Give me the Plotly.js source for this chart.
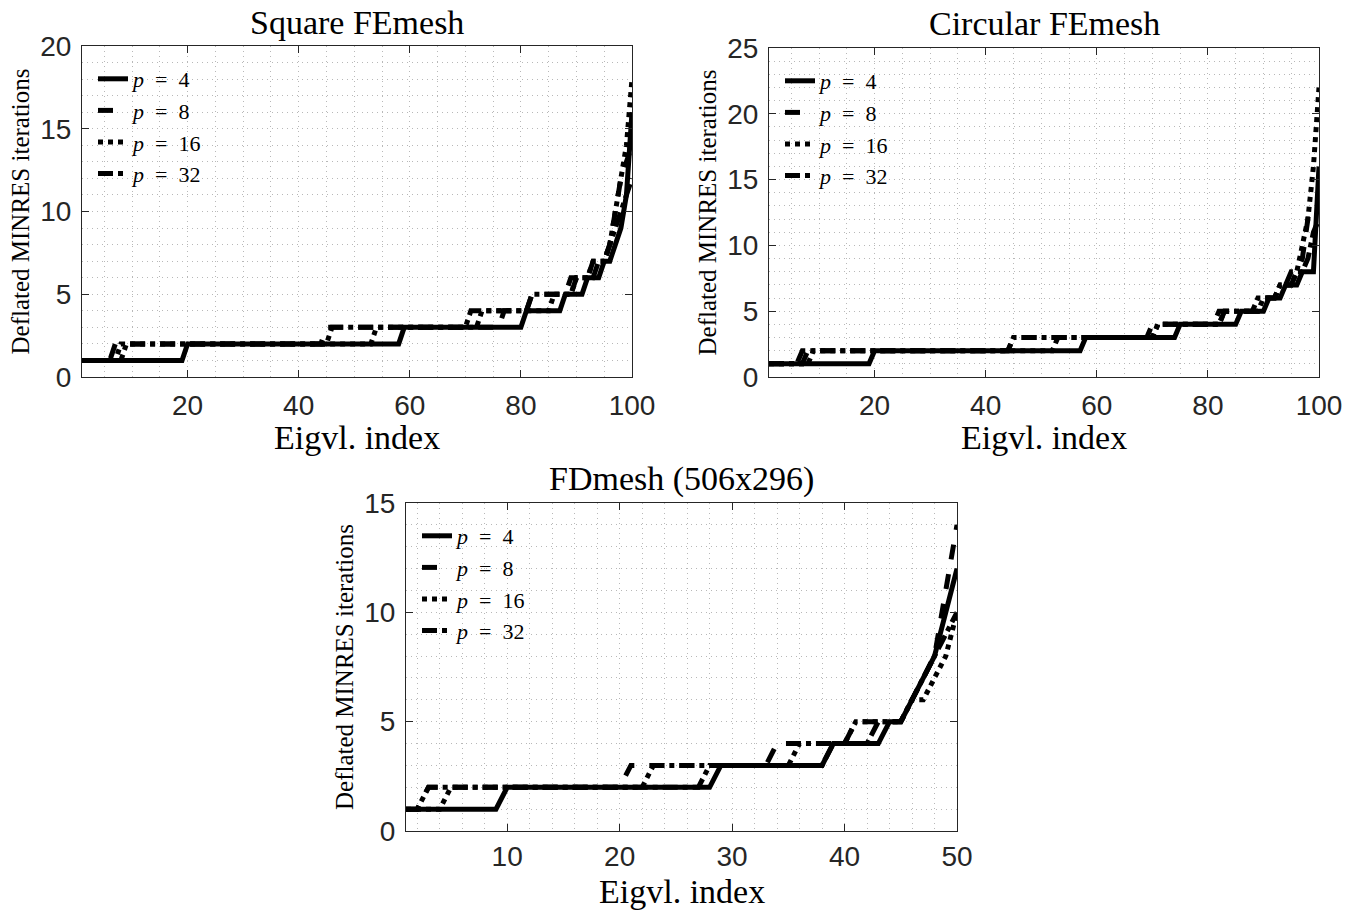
<!DOCTYPE html>
<html>
<head>
<meta charset="utf-8">
<script src="https://cdn.plot.ly/plotly-3.0.1.min.js"></script>
<style>html,body{margin:0;padding:0;background:#fff;}#chart{width:1358px;height:911px;}</style>
</head>
<body>
<div id="chart"></div>
<script>
// ---------- DATA ----------
const seriesNames = ['<i>p</i>\u2002=\u20024', '<i>p</i>\u2002=\u20028', '<i>p</i>\u2002=\u200216', '<i>p</i>\u2002=\u200232'];
const panelTitles = ['Square FEmesh', 'Circular FEmesh', 'FDmesh (506x296)'];
const xLabel = 'Eigvl. index';
const yLabel = 'Deflated MINRES iterations';

// Square FEmesh (100 eigenvalues)
const square_p4 = [
  1,1,1,1,1,1,1,1,1,1, 1,1,1,1,1,1,1,1,1,2, 2,2,2,2,2,2,2,2,2,2, 2,2,2,2,2,2,2,2,2,2,
  2,2,2,2,2,2,2,2,2,2, 2,2,2,2,2,2,2,2,3,3, 3,3,3,3,3,3,3,3,3,3, 3,3,3,3,3,3,3,3,3,3,
  4,4,4,4,4,4,4,5,5,5, 5,6,6,6,7,7,8,9,11,16];
const square_p8 = [
  1,1,1,1,1,1,2,2,2,2, 2,2,2,2,2,2,2,2,2,2, 2,2,2,2,2,2,2,2,2,2, 2,2,2,2,2,2,2,2,2,2,
  2,2,2,2,3,3,3,3,3,3, 3,3,3,3,3,3,3,3,3,3, 3,3,3,3,3,3,3,3,3,3, 3,3,3,3,3,3,4,4,4,4,
  4,5,5,5,5,5,5,5,6,6, 6,6,7,7,7,8,10,12,13,14];
const square_p16 = [
  1,1,1,1,1,1,1,2,2,2, 2,2,2,2,2,2,2,2,2,2, 2,2,2,2,2,2,2,2,2,2, 2,2,2,2,2,2,2,2,2,2,
  2,2,2,2,2,2,2,2,2,2, 2,2,2,3,3,3,3,3,3,3, 3,3,3,3,3,3,3,3,3,3, 3,3,4,4,4,4,4,4,4,4,
  4,4,4,4,4,5,5,5,5,6, 6,6,7,7,7,8,10,12,14,18];
const square_p32 = [
  1,1,1,1,1,1,1,1,2,2, 2,2,2,2,2,2,2,2,2,2, 2,2,2,2,2,2,2,2,2,2, 2,2,2,2,2,2,2,2,2,2,
  2,2,2,2,2,3,3,3,3,3, 3,3,3,3,3,3,3,3,3,3, 3,3,3,3,3,3,3,3,3,3, 4,4,4,4,4,4,4,4,4,4,
  4,5,5,5,5,5,5,5,5,6, 6,6,6,7,7,8,9,10,11,12];

// Circular FEmesh (100 eigenvalues)
const circ_p4 = [
  1,1,1,1,1,1,1,1,1,1, 1,1,1,1,1,1,1,1,1,2, 2,2,2,2,2,2,2,2,2,2, 2,2,2,2,2,2,2,2,2,2,
  2,2,2,2,2,2,2,2,2,2, 2,2,2,2,2,2,2,3,3,3, 3,3,3,3,3,3,3,3,3,3, 3,3,3,3,4,4,4,4,4,4,
  4,4,4,4,4,5,5,5,5,5, 6,6,6,7,7,7,8,8,8,16];
const circ_p8 = [
  1,1,1,1,1,1,2,2,2,2, 2,2,2,2,2,2,2,2,2,2, 2,2,2,2,2,2,2,2,2,2, 2,2,2,2,2,2,2,2,2,2,
  2,2,2,2,3,3,3,3,3,3, 3,3,3,3,3,3,3,3,3,3, 3,3,3,3,3,3,3,3,3,4, 4,4,4,4,4,4,4,4,4,4,
  4,5,5,5,5,5,5,5,5,6, 6,6,7,7,8,8,9,12,12,12];
const circ_p16 = [
  1,1,1,1,1,1,1,1,2,2, 2,2,2,2,2,2,2,2,2,2, 2,2,2,2,2,2,2,2,2,2, 2,2,2,2,2,2,2,2,2,2,
  2,2,2,2,2,2,2,2,2,2, 2,2,3,3,3,3,3,3,3,3, 3,3,3,3,3,3,3,3,3,3, 4,4,4,4,4,4,4,4,4,4,
  4,4,5,5,5,5,5,5,5,6, 6,6,7,7,7,8,10,12,16,22];
const circ_p32 = [
  1,1,1,1,1,1,1,2,2,2, 2,2,2,2,2,2,2,2,2,2, 2,2,2,2,2,2,2,2,2,2, 2,2,2,2,2,2,2,2,2,2,
  2,2,2,2,3,3,3,3,3,3, 3,3,3,3,3,3,3,3,3,3, 3,3,3,3,3,3,3,3,3,3, 4,4,4,4,4,4,4,4,4,4,
  4,4,5,5,5,5,5,5,6,6, 6,6,7,7,7,8,8,9,11,12];

// FDmesh 506x296 (50 eigenvalues)
const fd_p4 = [
  1,1,1,1,1,1,1,1,1,2, 2,2,2,2,2,2,2,2,2,2, 2,2,2,2,2,2,2,2,3,3,
  3,3,3,3,3,3,3,3,4,4, 4,4,4,5,5,6,7,8,10,12];
const fd_p8 = [
  1,1,2,2,2,2,2,2,2,2, 2,2,2,2,2,2,2,2,2,2, 3,3,3,3,3,3,3,3,3,3,
  3,3,3,4,4,4,4,4,4,4, 5,5,5,5,5,6,7,8,11,14];
const fd_p16 = [
  1,1,1,1,2,2,2,2,2,2, 2,2,2,2,2,2,2,2,2,2, 2,2,3,3,3,3,3,3,3,3,
  3,3,3,3,3,4,4,4,4,4, 5,5,5,5,5,6,6,7,8,10];
const fd_p32 = [
  1,1,2,2,2,2,2,2,2,2, 2,2,2,2,2,2,2,2,2,2, 2,2,2,2,2,2,2,3,3,3,
  3,3,3,3,3,3,3,3,4,4, 4,4,5,5,5,6,7,8,9,10];

const xTicks100 = [20, 40, 60, 80, 100];
const xTicks50 = [10, 20, 30, 40, 50];

// ---------- STYLE ----------
const W = 1358, H = 911;
const dashes = ['solid', 'dash', 'dot', 'dashdot'];
const axCol = '#262626';
const gridCol = '#b8b8b8';
const gridDash = '1px,4px';
const serif = 'Liberation Serif, Times New Roman, serif';

function px2x(p) { return p / W; }
function px2y(p) { return 1 - p / H; }

const panels = [
  {data: [square_p4, square_p8, square_p16, square_p32], box: [82, 632, 46, 377], xr: [1, 100], yr: [0, 20], xt: xTicks100, xminor: 5, yt: [0,5,10,15,20], legendKey: 'legend', xlab: 437, xlabAnchor: 'middle', xso: 3},
  {data: [circ_p4, circ_p8, circ_p16, circ_p32], box: [769, 1319, 48, 377], xr: [1, 100], yr: [0, 25], xt: xTicks100, xminor: 5, yt: [0,5,10,15,20,25], legendKey: 'legend2', xlab: 437, xlabAnchor: 'middle', xso: 3},
  {data: [fd_p4, fd_p8, fd_p16, fd_p32], box: [406, 957, 503, 831], xr: [1, 50], yr: [0, 15], xt: xTicks50, xminor: 2, yt: [0,5,10,15], legendKey: 'legend3', xlab: 911, xlabAnchor: 'bottom', xso: 0}
];

const traces = [];
const layout = {
  width: W, height: H,
  margin: {l: 0, r: 0, t: 0, b: 0},
  paper_bgcolor: '#fff', plot_bgcolor: '#fff',
  showlegend: true,
  annotations: []
};

panels.forEach((pn, k) => {
  const sx = k === 0 ? '' : String(k + 1);
  const xa = 'x' + sx, ya = 'y' + sx;
  pn.data.forEach((vals, s) => {
    const idx = vals.map((_, i) => i + 1);
    traces.push({
      type: 'scatter', mode: 'lines',
      x: idx, y: vals,
      xaxis: xa, yaxis: ya,
      name: seriesNames[s],
      legend: pn.legendKey,
      line: {color: '#000', width: 5, dash: dashes[s]},
      hoverinfo: 'skip'
    });
  });
  const common = {
    showline: true, mirror: 'ticks', linecolor: axCol, linewidth: 1,
    ticks: 'inside', ticklen: 7, tickcolor: axCol, tickwidth: 1,
    showgrid: true, gridcolor: gridCol, griddash: gridDash, gridwidth: 1,
    zeroline: false, fixedrange: true,
    tickfont: {family: 'Liberation Sans, Arial, sans-serif', size: 28, color: axCol}
  };
  layout['xaxis' + sx] = Object.assign({}, common, {
    domain: [px2x(pn.box[0]), px2x(pn.box[1])],
    range: pn.xr, anchor: ya,
    tickmode: 'array', tickvals: pn.xt,
    ticklabelstandoff: pn.xso,
    minor: {dtick: pn.xminor, tick0: 0, showgrid: true, gridcolor: gridCol, griddash: gridDash, gridwidth: 1, ticks: ''}
  });
  layout['yaxis' + sx] = Object.assign({}, common, {
    domain: [px2y(pn.box[3]), px2y(pn.box[2])],
    range: pn.yr, anchor: xa,
    tickmode: 'array', tickvals: pn.yt,
    ticklabelstandoff: 4,
    minor: {dtick: 1, tick0: 0, showgrid: true, gridcolor: gridCol, griddash: gridDash, gridwidth: 1, ticks: ''}
  });
  layout[pn.legendKey] = {
    x: px2x(pn.box[0] + 11), y: px2y(pn.box[2] + 12), xanchor: 'left', yanchor: 'top',
    bgcolor: 'rgba(0,0,0,0)', borderwidth: 0,
    font: {family: serif, size: 22, color: '#000'},
    itemwidth: 30, tracegroupgap: 0
  };
  const cx = (pn.box[0] + pn.box[1]) / 2;
  const cy = (pn.box[2] + pn.box[3]) / 2;
  layout.annotations.push({
    text: panelTitles[k], xref: 'paper', yref: 'paper',
    x: px2x(cx), y: px2y(pn.box[2] - 24), xanchor: 'center', yanchor: 'middle',
    showarrow: false, font: {family: serif, size: 34, color: '#000'}
  });
  layout.annotations.push({
    text: xLabel, xref: 'paper', yref: 'paper',
    x: px2x(cx), y: px2y(pn.xlab), xanchor: 'center', yanchor: pn.xlabAnchor,
    showarrow: false, borderpad: 0, font: {family: serif, size: 34, color: '#000'}
  });
  layout.annotations.push({
    text: yLabel, xref: 'paper', yref: 'paper', textangle: -90,
    x: px2x(pn.box[0] - 62), y: px2y(cy), xanchor: 'center', yanchor: 'middle',
    showarrow: false, font: {family: serif, size: 25, color: '#000'}
  });
});

Plotly.newPlot('chart', traces, layout, {displayModeBar: false, staticPlot: true});
</script>
</body>
</html>
